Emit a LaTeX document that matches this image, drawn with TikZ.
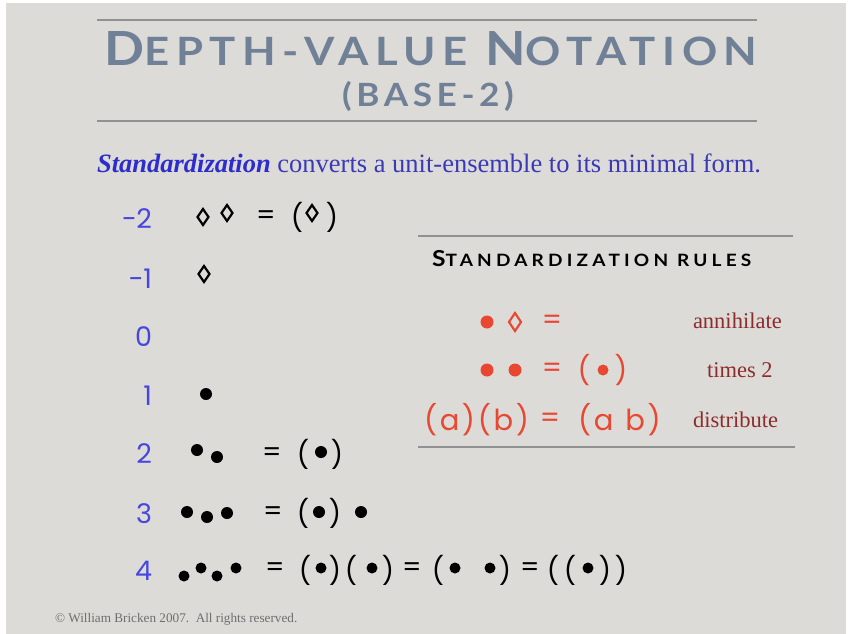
\documentclass[tikz,border=0pt]{standalone}
\usepackage{fontspec}
\usepackage{graphicx}
\usetikzlibrary{shapes.geometric}
\setmainfont{Liberation Serif}
\newfontfamily\ttlfont[LetterSpace=15]{Lato}
\newfontfamily\subfont[LetterSpace=13]{Lato}
\newfontfamily\ttlwide[LetterSpace=22]{Lato}
\newfontfamily\symfont{Poppins}
\newfontfamily\symwide[LetterSpace=9]{Poppins}
\definecolor{bgc}{RGB}{221,219,215}
\definecolor{titlec}{RGB}{112,128,150}
\definecolor{rulegray}{RGB}{145,145,148}
\definecolor{numblue}{RGB}{70,70,225}
\definecolor{subblue}{RGB}{58,58,185}
\definecolor{stdblue}{RGB}{45,45,205}
\definecolor{redc}{RGB}{232,72,50}
\definecolor{darkred}{RGB}{140,45,45}
\definecolor{copyc}{RGB}{110,110,110}
\tikzset{
  hrule/.style={draw=rulegray, line width=1.5pt},
  numlbl/.style={anchor=base east, text=numblue, font=\symfont\fontsize{27}{27}\selectfont},
  sym/.style={anchor=center, text=black, font=\symfont\fontsize{27}{27}\selectfont},
  rsym/.style={anchor=center, text=redc, font=\symfont\fontsize{28}{28}\selectfont},
  rword/.style={anchor=base west, text=redc, font=\symwide\fontsize{29}{29}\selectfont},
  bdot/.style={circle, fill=black, minimum size=12pt},
  sdot/.style={circle, fill=black, minimum size=11pt},
  rdot/.style={circle, fill=redc, minimum size=13pt},
  rsdot/.style={circle, fill=redc, minimum size=11pt},
  bdia/.style={diamond, draw=black, line width=2.2pt, minimum width=11pt, minimum height=16pt},
  rdia/.style={diamond, draw=redc, line width=2.1pt, minimum width=12pt, minimum height=18pt},
  rname/.style={anchor=base west, text=darkred, font=\fontsize{22.5}{22.5}\selectfont},
}
\begin{document}
\begin{tikzpicture}[x=1pt,y=-1pt, every node/.append style={inner sep=0pt, outer sep=0pt}]
\useasboundingbox (0,0) rectangle (851,634);
\fill[white] (0,0) rectangle (851,634);
\fill[bgc] (6,3) rectangle (846,634);

% title
\coordinate (r1a) at (97,20); \coordinate (r1b) at (757,20);
\coordinate (r2a) at (97,121); \coordinate (r2b) at (757,121);
\draw[hrule] (r1a) -- (r1b);
\draw[hrule] (r2a) -- (r2b);
\node[anchor=base, text=titlec, font=\ttlfont\bfseries] (title) at (431,66)
  {\scalebox{1.12}[1]{\fontsize{39}{39}\selectfont{\fontsize{47}{47}\selectfont D}EPTH-VALUE {\fontsize{47}{47}\selectfont N}OTATION}};
\node[anchor=base, text=titlec, font=\subfont\bfseries\fontsize{32}{32}\selectfont] (sub) at (428,106) {\scalebox{1.1}[1]{(BASE-2)}};

% subtitle
\node[anchor=base, text=subblue, font=\fontsize{26.5}{26.5}\selectfont] (intro) at (429,172)
  {{\color{stdblue}\textbf{\textit{Standardization}}} converts a unit-ensemble to its minimal form.};

% numbers
\node[numlbl] (nm2) at (152,228) {−2};
\node[numlbl] (nm1) at (152,288) {−1};
\node[numlbl] (n0) at (152,346) {0};
\node[numlbl] (n1) at (152,405) {1};
\node[numlbl] (n2) at (152,463) {2};
\node[numlbl] (n3) at (152,523) {3};
\node[numlbl] (n4) at (152,580) {4};

% row -2
\node[bdia] (am1) at (203,217) {};
\node[bdia] (am2) at (227,213) {};
\node[sym] (aeq) at (266,218) {=};
\node[sym] (ap1) at (297,217) {(};
\node[bdia] (am3) at (312,213) {};
\node[sym] (ap2) at (332,217) {)};
% row -1
\node[bdia] (bm1) at (204,274) {};
% row 1
\node[bdot] (cd1) at (206,394) {};
% row 2
\node[bdot] (dd1) at (197,450) {};
\node[bdot] (dd2) at (217,457) {};
\node[sym] (deq) at (272,455) {=};
\node[sym] (dp1) at (303,454) {(};
\node[bdot] (dd3) at (321,452) {};
\node[sym] (dp2) at (337,454) {)};
% row 3
\node[bdot] (ed1) at (187,512) {};
\node[bdot] (ed2) at (207,517) {};
\node[bdot] (ed3) at (227,513) {};
\node[sym] (eeq) at (273,514) {=};
\node[sym] (ep1) at (303,513) {(};
\node[bdot] (ed4) at (319,512) {};
\node[sym] (ep2) at (335,513) {)};
\node[bdot] (ed5) at (361,512) {};
% row 4
\node[sdot] (fd1) at (184,576) {};
\node[sdot] (fd2) at (201,568) {};
\node[sdot] (fd3) at (217,576) {};
\node[sdot] (fd4) at (236,568) {};
\node[sym] (feq1) at (275,570) {=};
\node[sym] (fp1) at (305,570) {(};
\node[sdot] (fd5) at (321,568) {};
\node[sym] (fp2) at (335,570) {)};
\node[sym] (fp3) at (351,570) {(};
\node[sdot] (fd6) at (372,568) {};
\node[sym] (fp4) at (388,570) {)};
\node[sym] (feq2) at (412,570) {=};
\node[sym] (fp5) at (438,570) {(};
\node[sdot] (fd7) at (455,568) {};
\node[sdot] (fd8) at (490,568) {};
\node[sym] (fp6) at (505,570) {)};
\node[sym] (feq3) at (530,570) {=};
\node[sym] (fp7) at (553,570) {(};
\node[sym] (fp8) at (570,570) {(};
\node[sdot] (fd9) at (588,568) {};
\node[sym] (fp9) at (605,570) {)};
\node[sym] (fp10) at (621,570) {)};

% rules box
\coordinate (b1a) at (418,236); \coordinate (b1b) at (793,236);
\coordinate (b2a) at (418,447); \coordinate (b2b) at (795,447);
\draw[hrule] (b1a) -- (b1b);
\draw[hrule] (b2a) -- (b2b);
\node[anchor=base west, text=black, font=\ttlwide\bfseries] (rhead) at (432,266)
  {\scalebox{1.12}[1]{{\fontsize{22}{22}\selectfont S}\fontsize{17}{17}\selectfont TANDARDIZATION RULES}};

\node[rdot] (ra1) at (487,322) {};
\node[rdia] (ra2) at (515,322) {};
\node[rsym] (ra3) at (552,322) {=};
\node[rname] (ran) at (693,328) {annihilate};

\node[rdot] (rb1) at (487,370) {};
\node[rdot] (rb2) at (515,370) {};
\node[rsym] (rb3) at (552,370) {=};
\node[rsym] (rb4) at (584,370) {(};
\node[rsdot] (rb5) at (603,370) {};
\node[rsym] (rb6) at (621,370) {)};
\node[rname] (rbn) at (707,377) {times 2};

\node[rword] (rc1) at (424,430) {(a)(b)};
\node[rsym] (rc2) at (550,420) {=};
\node[rword] (rc3) at (578,430) {(a\hspace{12pt}b)};
\node[rname] (rcn) at (693,427) {distribute};

% copyright
\node[anchor=base west, text=copyc, font=\fontsize{13.2}{13.2}\selectfont] (copy) at (55,622)
  {© William Bricken 2007.\ \ All rights reserved.};
\end{tikzpicture}
\end{document}
